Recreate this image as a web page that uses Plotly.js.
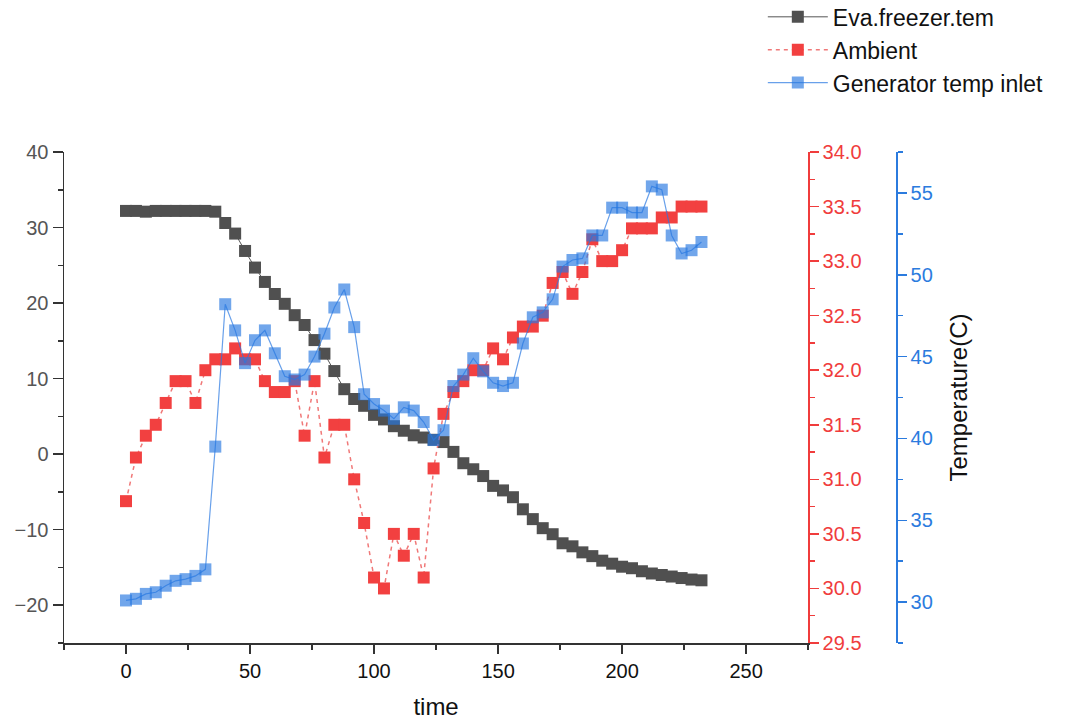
<!DOCTYPE html>
<html>
<head>
<meta charset="utf-8">
<script src="https://cdn.plot.ly/plotly-3.0.1.min.js"></script>
<style>html,body{margin:0;padding:0;background:#fff;}#chart{width:1089px;height:720px;}</style>
</head>
<body>
<div id="chart"></div>
<script>
// time axis (every 4 units)
var time = [0,4,8,12,16,20,24,28,32,36,40,44,48,52,56,60,64,68,72,76,80,84,88,92,96,100,104,108,112,116,120,124,128,132,136,140,144,148,152,156,160,164,168,172,176,180,184,188,192,196,200,204,208,212,216,220,224,228,232];

var evaTemp = [32.2,32.2,32.1,32.2,32.2,32.2,32.2,32.2,32.2,32.1,
  30.6,29.2,26.9,24.7,22.8,21.2,19.9,18.4,17.1,15.1,
  13.3,11.0,8.6,7.3,6.4,5.2,4.6,3.7,3.1,2.5,
  2.2,1.9,1.6,0.3,-1.2,-2.0,-2.9,-4.2,-4.8,-5.7,
  -7.3,-8.6,-9.8,-10.6,-11.8,-12.2,-13.0,-13.5,-14.1,-14.5,
  -14.9,-15.1,-15.5,-15.8,-16.0,-16.2,-16.4,-16.6,-16.7];

var ambientTemp = [30.8,31.2,31.4,31.5,31.7,31.9,31.9,31.7,32.0,32.1,
  32.1,32.2,32.1,32.1,31.9,31.8,31.8,31.9,31.4,31.9,
  31.2,31.5,31.5,31.0,30.6,30.1,30.0,30.5,30.3,30.5,
  30.1,31.1,31.6,31.8,31.9,32.0,32.0,32.2,32.1,32.3,
  32.4,32.4,32.5,32.8,32.9,32.7,32.9,33.2,33.0,33.0,
  33.1,33.3,33.3,33.3,33.4,33.4,33.5,33.5,33.5];

var generatorTemp = [30.1,30.2,30.5,30.6,31.0,31.3,31.4,31.6,32.0,39.5,
  48.2,46.6,44.6,46.0,46.6,45.2,43.8,43.6,43.9,45.0,
  46.4,48.0,49.1,46.8,42.7,42.1,41.7,41.2,41.9,41.7,
  41.0,39.9,40.5,43.2,43.9,44.9,44.1,43.4,43.2,43.4,
  45.8,47.4,47.7,48.5,50.5,50.9,51.0,52.4,52.4,54.1,
  54.1,53.8,53.8,55.4,55.2,52.4,51.3,51.5,52.0];

var seriesNames = ['Eva.freezer.tem', 'Ambient', 'Generator temp inlet'];

var FONT = 'Liberation Sans, Arial, sans-serif';
var RED = '#F03C3C';
var BLUE = '#2B7BDE';

var traces = [
  {x: time, y: evaTemp, name: seriesNames[0], type: 'scatter', mode: 'lines+markers',
   yaxis: 'y', line: {color: '#555555', width: 1},
   marker: {symbol: 'square', size: 12, color: '#505050', line: {width: 0}}},
  {x: time, y: ambientTemp, name: seriesNames[1], type: 'scatter', mode: 'lines+markers',
   yaxis: 'y2', line: {color: '#F07878', width: 1.5, dash: '4px,4px'},
   marker: {symbol: 'square', size: 12, color: '#F24040', line: {width: 0}}},
  {x: time, y: generatorTemp, name: seriesNames[2], type: 'scatter', mode: 'lines+markers',
   yaxis: 'y3', line: {color: 'rgba(40,120,225,0.7)', width: 1.2},
   marker: {symbol: 'square', size: 12, color: 'rgba(40,120,225,0.66)', line: {width: 0}}}
];

var layout = {
  width: 1089, height: 720,
  margin: {l: 64, r: 89, t: 152, b: 77, autoexpand: false},
  paper_bgcolor: '#ffffff', plot_bgcolor: '#ffffff',
  font: {family: FONT, size: 20, color: '#111'},
  showlegend: true,
  legend: {x: 0.7466, y: 1.319, xanchor: 'left', yanchor: 'top',
    font: {family: FONT, size: 23, color: '#111'}, bgcolor: 'rgba(0,0,0,0)',
    itemwidth: 60, tracegroupgap: 0},
  xaxis: {domain: [0, 0.795], range: [-25, 275], tick0: 0, dtick: 50,
    ticks: 'outside', ticklen: 9, tickwidth: 1.5, tickcolor: '#333',
    showline: true, linecolor: '#333', linewidth: 1.5,
    showgrid: false, zeroline: false,
    minor: {tick0: -25, dtick: 25, ticks: 'outside', ticklen: 5, tickwidth: 1.5, tickcolor: '#333', showgrid: false},
    tickfont: {family: FONT, size: 20, color: '#111'},
    title: {text: 'time', font: {family: FONT, size: 24, color: '#111'}, standoff: 18}},
  yaxis: {range: [-25, 40], tick0: 0, dtick: 10, anchor: 'x',
    ticks: 'outside', ticklen: 10, tickwidth: 1.5, tickcolor: '#333',
    showline: true, linecolor: '#333', linewidth: 1.5,
    showgrid: false, zeroline: false,
    minor: {tick0: 0, dtick: 5, ticks: 'outside', ticklen: 5, tickwidth: 1.5, tickcolor: '#333', showgrid: false},
    tickfont: {family: FONT, size: 20, color: '#555'}},
  yaxis2: {range: [29.5, 34], tick0: 29.5, dtick: 0.5, tickformat: '.1f',
    overlaying: 'y', side: 'right', anchor: 'x',
    ticks: 'outside', ticklen: 9, tickwidth: 1.5, tickcolor: RED,
    showline: true, linecolor: RED, linewidth: 1.5,
    showgrid: false, zeroline: false,
    minor: {dtick: 0.25, ticks: 'outside', ticklen: 5, tickwidth: 1.5, tickcolor: RED, showgrid: false},
    tickfont: {family: FONT, size: 20, color: RED}},
  yaxis3: {range: [27.5, 57.5], tick0: 0, dtick: 5,
    overlaying: 'y', side: 'right', anchor: 'free', position: 0.889,
    ticks: 'outside', ticklen: 9, tickwidth: 1.5, tickcolor: BLUE,
    showline: true, linecolor: BLUE, linewidth: 1.5,
    showgrid: false, zeroline: false,
    minor: {dtick: 2.5, ticks: 'outside', ticklen: 5, tickwidth: 1.5, tickcolor: BLUE, showgrid: false},
    tickfont: {family: FONT, size: 20, color: BLUE},
    title: {text: 'Temperature(C)', font: {family: FONT, size: 24, color: '#111'}}}
};

Plotly.newPlot('chart', traces, layout, {displayModeBar: false, staticPlot: true});
</script>
</body>
</html>
